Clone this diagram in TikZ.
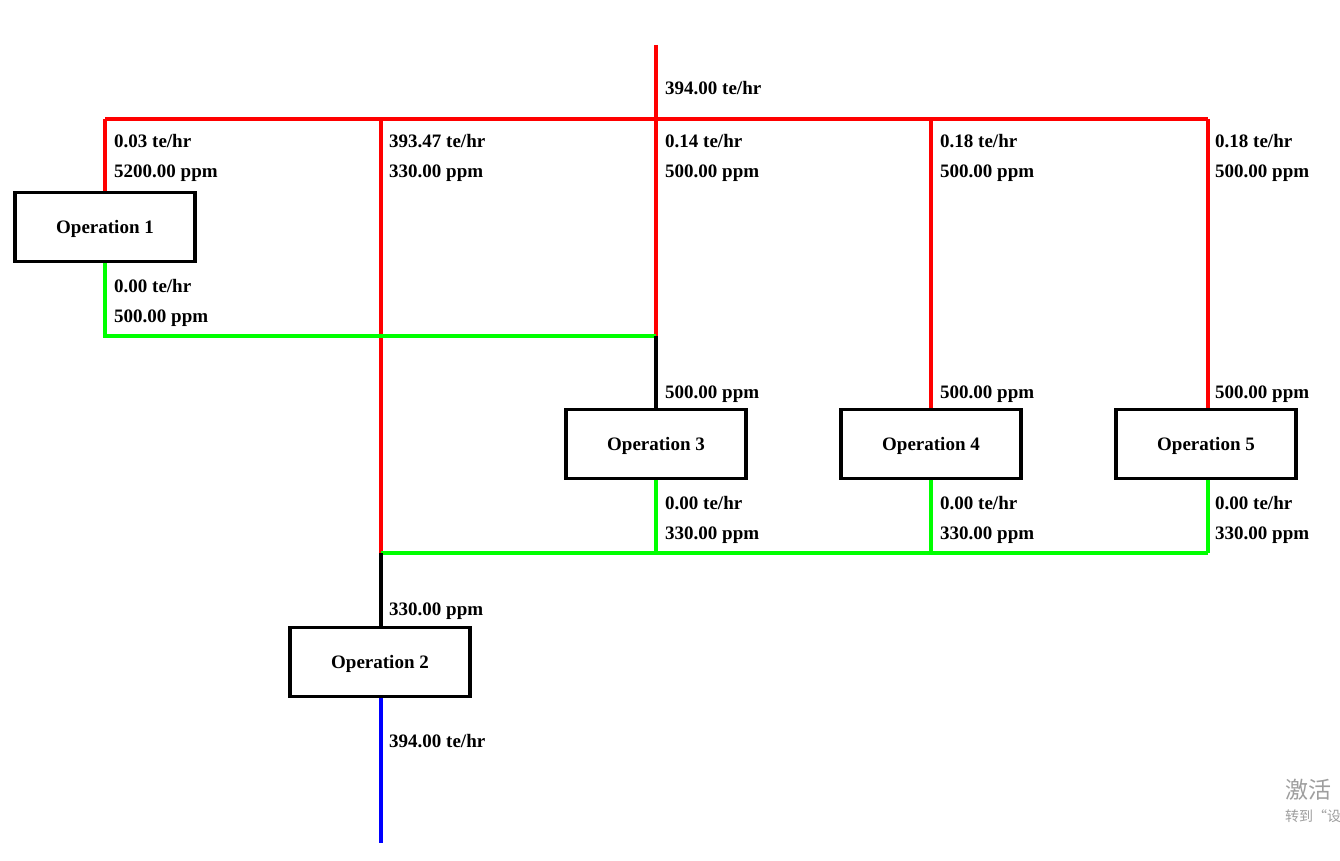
\documentclass[tikz,border=0pt]{standalone}
\usepackage{fontspec}
\setmainfont{Liberation Serif}
\newfontfamily\cjk{Noto Sans CJK SC}
\begin{document}
\begin{tikzpicture}[x=1pt,y=-1pt,
  red line/.style={draw=red,line width=3.2pt},
  green line/.style={draw=green,line width=3.2pt},
  black line/.style={draw=black,line width=3.2pt},
  blue line/.style={draw=blue,line width=3.2pt},
  opbox/.style={draw=black,line width=3.2pt,fill=white,minimum width=180pt,minimum height=69pt,inner sep=0pt,text height=13pt,text depth=0pt,font=\fontsize{19}{22}\selectfont\bfseries},
  lbl/.style={anchor=west,inner sep=0pt,yshift=-0.8pt,font=\fontsize{19}{22}\selectfont\bfseries}]
\useasboundingbox[fill=white] (0,0) rectangle (1340,861);

% coordinates
\coordinate (src) at (656,45);
\coordinate (hL) at (105,119);
\coordinate (h2) at (381,119);
\coordinate (h3) at (656,119);
\coordinate (h4) at (931,119);
\coordinate (hR) at (1208,119);
\coordinate (g1) at (105,336);
\coordinate (g3) at (656,336);
\coordinate (r2) at (381,553);
\coordinate (b3) at (656,553);
\coordinate (b4) at (931,553);
\coordinate (b5) at (1208,553);
\coordinate (sink) at (381,843);

% boxes
\node[opbox] (op1) at (105,227) {Operation 1};
\node[opbox] (op2) at (380,662) {Operation 2};
\node[opbox] (op3) at (656,444) {Operation 3};
\node[opbox] (op4) at (931,444) {Operation 4};
\node[opbox] (op5) at (1206,444) {Operation 5};

% red freshwater
\draw[red line] (src) -- (h3);
\draw[red line] (hL) -- (hR);
\draw[red line] (hL) -- (op1.north -| hL);
\draw[red line] (h2) -- (r2);
\draw[red line] (h3) -- (g3);
\draw[red line] (h4) -- (op4.north -| h4);
\draw[red line] (hR) -- (op5.north -| hR);

% green reuse lines
\draw[green line] (op1.south -| hL) -- (g1) -- (g3);
\draw[green line] (op3.south) -- (b3);
\draw[green line] (op4.south -| b4) -- (b4);
\draw[green line] (op5.south -| b5) -- (b5);
\draw[green line] (r2) -- (b5);

% black mixing lines
\draw[black line] (g3) -- (op3.north);
\draw[black line] (r2) -- (op2.north -| r2);

% blue outlet
\draw[blue line] (op2.south -| sink) -- (sink);

% labels
\node[lbl] (l0) at (665,87) {394.00 te/hr};
\node[lbl] (l1a) at (114,140) {0.03 te/hr};
\node[lbl] (l1b) at (114,172) {5200.00 ppm};
\node[lbl] (l2a) at (389,140) {393.47 te/hr};
\node[lbl] (l2b) at (389,172) {330.00 ppm};
\node[lbl] (l3a) at (665,140) {0.14 te/hr};
\node[lbl] (l3b) at (665,172) {500.00 ppm};
\node[lbl] (l4a) at (940,140) {0.18 te/hr};
\node[lbl] (l4b) at (940,172) {500.00 ppm};
\node[lbl] (l5a) at (1215,140) {0.18 te/hr};
\node[lbl] (l5b) at (1215,172) {500.00 ppm};
\node[lbl] (o1a) at (114,285) {0.00 te/hr};
\node[lbl] (o1b) at (114,317) {500.00 ppm};
\node[lbl] (i3) at (665,393) {500.00 ppm};
\node[lbl] (i4) at (940,393) {500.00 ppm};
\node[lbl] (i5) at (1215,393) {500.00 ppm};
\node[lbl] (o3a) at (665,502) {0.00 te/hr};
\node[lbl] (o3b) at (665,534) {330.00 ppm};
\node[lbl] (o4a) at (940,502) {0.00 te/hr};
\node[lbl] (o4b) at (940,534) {330.00 ppm};
\node[lbl] (o5a) at (1215,502) {0.00 te/hr};
\node[lbl] (o5b) at (1215,534) {330.00 ppm};
\node[lbl] (i2) at (389,610) {330.00 ppm};
\node[lbl] (out) at (389,740) {394.00 te/hr};

% watermark (cut off at the right edge, as in the screenshot)
\begin{scope}
\clip (0,0) rectangle (1340,861);
\node[anchor=west,inner sep=0pt,text=black!38,font=\cjk\fontsize{23}{25}\selectfont] (wm1) at (1285,790) {激活};
\node[anchor=west,inner sep=0pt,text=black!38,font=\cjk\fontsize{14}{16}\selectfont] (wm2) at (1285,816) {转到“设置”以激活};
\end{scope}
\end{tikzpicture}
\end{document}
